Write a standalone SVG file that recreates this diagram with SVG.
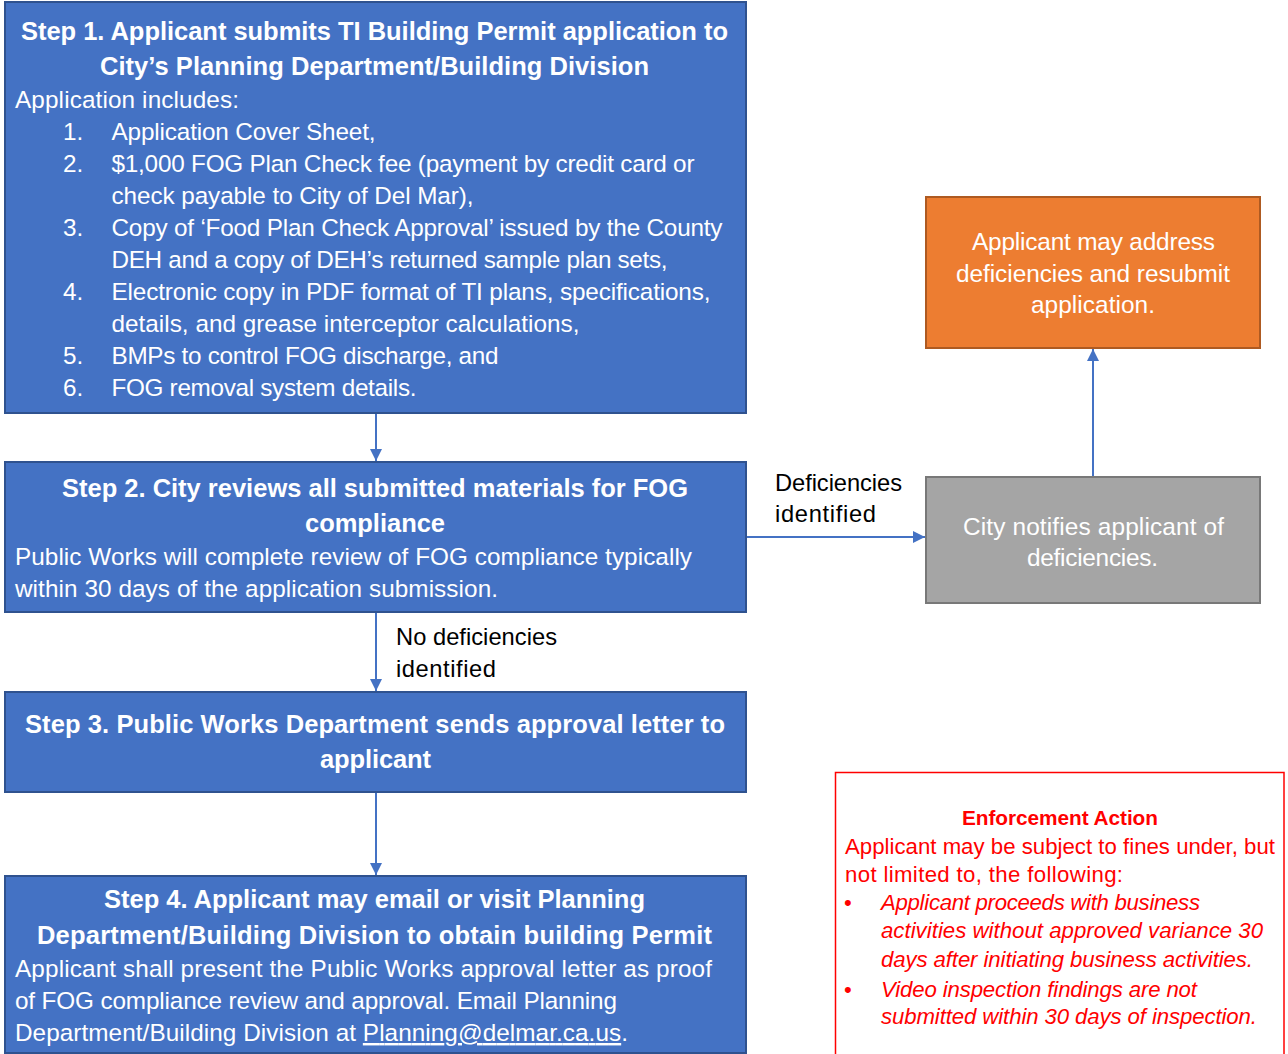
<svg xmlns="http://www.w3.org/2000/svg" width="1288" height="1054" viewBox="0 0 1288 1054">
<defs>
<style>
.blue{fill:#4472C4;stroke:#2F528F;stroke-width:2}
.orange{fill:#ED7D31;stroke:#AE5A21;stroke-width:2}
.gray{fill:#A5A5A5;stroke:#787878;stroke-width:2}
.redbox{fill:#FFFFFF;stroke:#FF0000;stroke-width:1.5}
text{font-family:"Liberation Sans",Arial,sans-serif}
.t{fill:#FFFFFF;font-size:25.5px;font-weight:bold}
.b{fill:#FFFFFF;font-size:24.3px}
.c{fill:#FFFFFF;font-size:24.4px}
.l{fill:#000000;font-size:23.7px}
.r{fill:#FF0000;font-size:22.2px}
.rb{fill:#FF0000;font-size:20.8px;font-weight:bold}
.ri{fill:#FF0000;font-size:22.2px;font-style:italic}
.conn{fill:none;stroke:#4472C4;stroke-width:2}
</style>
<marker id="arrow" viewBox="0 0 12 12" refX="12" refY="6" markerWidth="12" markerHeight="12" markerUnits="userSpaceOnUse" orient="auto">
<path d="M0,0 L12,6 L0,12 z" fill="#4472C4"/>
</marker>
</defs>

<g id="connectors">
<line class="conn" x1="376" y1="413" x2="376" y2="461" marker-end="url(#arrow)"/>
<line class="conn" x1="376" y1="612" x2="376" y2="691" marker-end="url(#arrow)"/>
<line class="conn" x1="376" y1="792" x2="376" y2="875" marker-end="url(#arrow)"/>
<line class="conn" x1="746" y1="537" x2="925" y2="537" marker-end="url(#arrow)"/>
<line class="conn" x1="1093" y1="477" x2="1093" y2="349" marker-end="url(#arrow)"/>
<text class="l" x="775" y="491" textLength="127">Deficiencies</text>
<text class="l" x="775" y="522" textLength="101">identified</text>
<text class="l" x="396" y="645" textLength="161">No deficiencies</text>
<text class="l" x="396" y="677" textLength="100">identified</text>
</g>

<g id="step1">
<rect class="blue" x="5" y="2" width="741" height="411"/>
<text class="t" x="21" y="40" textLength="707">Step 1. Applicant submits TI Building Permit application to</text>
<text class="t" x="100" y="75" textLength="549">City’s Planning Department/Building Division</text>
<text class="b" x="15" y="108" textLength="224">Application includes:</text>
<text class="b" x="63" y="140">1.</text><text class="b" x="111.5" y="140" textLength="264">Application Cover Sheet,</text>
<text class="b" x="63" y="172">2.</text><text class="b" x="111.5" y="172" textLength="583">$1,000 FOG Plan Check fee (payment by credit card or</text>
<text class="b" x="111.5" y="204" textLength="362">check payable to City of Del Mar),</text>
<text class="b" x="63" y="236">3.</text><text class="b" x="111.5" y="236" textLength="611">Copy of ‘Food Plan Check Approval’ issued by the County</text>
<text class="b" x="111.5" y="268" textLength="556">DEH and a copy of DEH’s returned sample plan sets,</text>
<text class="b" x="63" y="300">4.</text><text class="b" x="111.5" y="300" textLength="599">Electronic copy in PDF format of TI plans, specifications,</text>
<text class="b" x="111.5" y="332" textLength="468">details, and grease interceptor calculations,</text>
<text class="b" x="63" y="364">5.</text><text class="b" x="111.5" y="364" textLength="387">BMPs to control FOG discharge, and</text>
<text class="b" x="63" y="396">6.</text><text class="b" x="111.5" y="396" textLength="305">FOG removal system details.</text>
</g>

<g id="step2">
<rect class="blue" x="5" y="462" width="741" height="150"/>
<text class="t" x="62" y="497" textLength="626">Step 2. City reviews all submitted materials for FOG</text>
<text class="t" x="305" y="532" textLength="140">compliance</text>
<text class="b" x="15" y="565" textLength="677">Public Works will complete review of FOG compliance typically</text>
<text class="b" x="15" y="597" textLength="483">within 30 days of the application submission.</text>
</g>

<g id="step3">
<rect class="blue" x="5" y="692" width="741" height="100"/>
<text class="t" x="25" y="733" textLength="700">Step 3. Public Works Department sends approval letter to</text>
<text class="t" x="320" y="768" textLength="111">applicant</text>
</g>

<g id="step4">
<rect class="blue" x="5" y="876" width="741" height="177"/>
<text class="t" x="104" y="908" textLength="541">Step 4. Applicant may email or visit Planning</text>
<text class="t" x="37" y="944" textLength="675">Department/Building Division to obtain building Permit</text>
<text class="b" x="15" y="977" textLength="697">Applicant shall present the Public Works approval letter as proof</text>
<text class="b" x="15" y="1009" textLength="602">of FOG compliance review and approval. Email Planning</text>
<text class="b" x="15" y="1041" textLength="613">Department/Building Division at <tspan text-decoration="underline">Planning@delmar.ca.us</tspan>.</text>
</g>

<g id="resubmit">
<rect class="orange" x="926" y="197" width="334" height="151"/>
<text class="c" x="972" y="250" textLength="243">Applicant may address</text>
<text class="c" x="956" y="282" textLength="274">deficiencies and resubmit</text>
<text class="c" x="1031" y="313" textLength="124">application.</text>
</g>

<g id="notify">
<rect class="gray" x="926" y="477" width="334" height="126"/>
<text class="c" x="963" y="535" textLength="261">City notifies applicant of</text>
<text class="c" x="1027" y="566" textLength="131">deficiencies.</text>
</g>

<g id="enforcement">
<rect class="redbox" x="835.5" y="772.5" width="448.5" height="290"/>
<text class="rb" x="962" y="825" textLength="196">Enforcement Action</text>
<text class="r" x="845" y="854" textLength="430">Applicant may be subject to fines under, but</text>
<text class="r" x="845" y="882" textLength="278">not limited to, the following:</text>
<text class="r" x="844" y="910">•</text><text class="ri" x="881" y="910" textLength="319">Applicant proceeds with business</text>
<text class="ri" x="881" y="938" textLength="382">activities without approved variance 30</text>
<text class="ri" x="881" y="967" textLength="372">days after initiating business activities.</text>
<text class="r" x="844" y="997">•</text><text class="ri" x="881" y="997" textLength="316">Video inspection findings are not</text>
<text class="ri" x="881" y="1024" textLength="376">submitted within 30 days of inspection.</text>
</g>
</svg>
